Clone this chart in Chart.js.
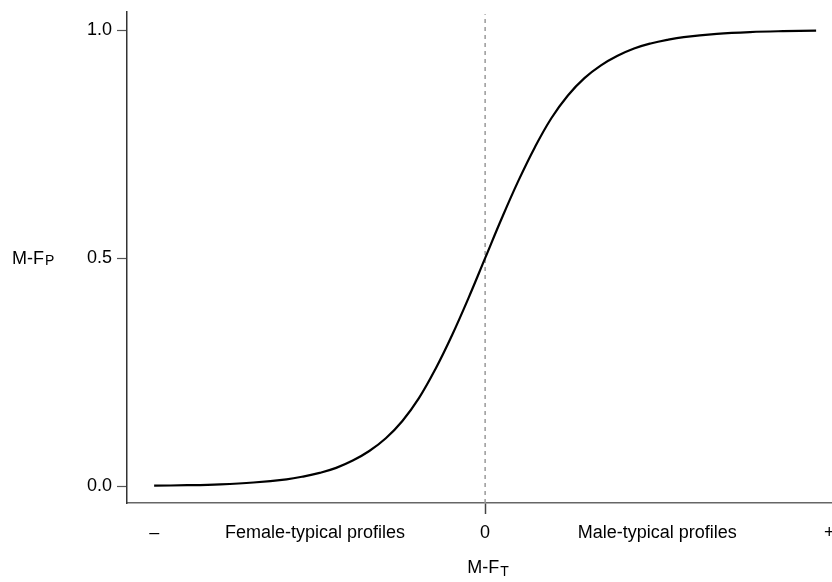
<!DOCTYPE html>
<html>
<head>
<meta charset="utf-8">
<script src="https://cdn.jsdelivr.net/npm/chart.js@4.4.1/dist/chart.umd.min.js"></script>
<style>
  html, body { margin: 0; padding: 0; background: #fff; }
  #wrap { width: 832px; height: 582px; position: relative; }
</style>
</head>
<body>
<div id="wrap"><canvas id="grafico"></canvas></div>
<script>
// Datos
const mfT = [-1, -0.9, -0.8, -0.7, -0.6, -0.55, -0.5, -0.45, -0.4, -0.35, -0.3, -0.25, -0.2, -0.15, -0.1, -0.05, 0,
             0.05, 0.1, 0.15, 0.2, 0.25, 0.3, 0.35, 0.4, 0.45, 0.5, 0.55, 0.6, 0.7, 0.8, 0.9, 1];
const mfP = [0.001, 0.002, 0.004, 0.008, 0.015, 0.021, 0.029, 0.04, 0.056, 0.077, 0.105, 0.143, 0.193, 0.257, 0.331, 0.413, 0.5,
             0.587, 0.669, 0.743, 0.807, 0.857, 0.895, 0.923, 0.944, 0.96, 0.971, 0.979, 0.985, 0.992, 0.996, 0.998, 0.999];

const xTickValues = [-1, -0.514, 0, 0.52, 1.04];
const xTickLabels = ['–', 'Female-typical profiles', '0', 'Male-typical profiles', '+'];
const yTickValues = [0, 0.5, 1];

const dashX = [0, 0];
const dashY = [-0.037, 1.035];

const fuente = "'Liberation Sans', Arial, sans-serif";

// Títulos de ejes con subíndice
const titulos = {
  id: 'titulos',
  afterDraw(chart) {
    const c = chart.ctx;
    c.save();
    c.fillStyle = '#000';
    c.textBaseline = 'alphabetic';
    c.textAlign = 'left';
    // eje y
    c.font = '18px ' + fuente;
    c.fillText('M-F', 12, 264);
    let w = c.measureText('M-F').width;
    c.font = '14px ' + fuente;
    c.fillText('P', 12 + w + 1, 265);
    // eje x
    c.font = '18px ' + fuente;
    const w1 = c.measureText('M-F').width;
    c.font = '14px ' + fuente;
    const w2 = c.measureText('T').width;
    const x0 = 488 - (w1 + w2 + 1) / 2;
    c.font = '18px ' + fuente;
    c.fillText('M-F', x0, 573);
    c.font = '14px ' + fuente;
    c.fillText('T', x0 + w1 + 1, 576);
    c.restore();
  }
};

const ctx = document.getElementById('grafico').getContext('2d');
const chart = new Chart(ctx, {
  type: 'line',
  data: {
    datasets: [{
      data: mfT.map((x, i) => ({ x: x, y: mfP[i] })),
      borderColor: '#000',
      borderWidth: 2.2,
      pointRadius: 0,
      tension: 0.4
    }, {
      data: dashX.map((x, i) => ({ x: x, y: dashY[i] })),
      borderColor: '#999',
      borderWidth: 1.5,
      borderDash: [4, 4],
      pointRadius: 0
    }]
  },
  plugins: [titulos],
  options: {
    responsive: true,
    maintainAspectRatio: false,
    animation: false,
    layout: { padding: { top: 12, left: 0, right: 0, bottom: 0 } },
    plugins: { legend: { display: false }, tooltip: { enabled: false } },
    scales: {
      x: {
        type: 'linear',
        min: -1.082,
        max: 1.048,
        afterBuildTicks: s => { s.ticks = xTickValues.map(v => ({ value: v })); },
        afterFit: s => { s.height = 79; s.paddingLeft = 0; s.paddingRight = 0; },
        border: { display: true, color: '#666', width: 1.5 },
        grid: {
          drawOnChartArea: false,
          drawTicks: true,
          tickLength: 11,
          tickWidth: 1.5,
          tickColor: c => (c.tick && c.tick.value === 0 ? '#444' : 'rgba(0,0,0,0)')
        },
        ticks: {
          autoSkip: false,
          maxRotation: 0,
          padding: 8,
          color: '#000',
          font: { family: fuente, size: 18 },
          callback: (v, i) => xTickLabels[i]
        }
      },
      y: {
        type: 'linear',
        min: -0.037,
        max: 1.04,
        afterBuildTicks: s => { s.ticks = yTickValues.map(v => ({ value: v })); },
        afterFit: s => { s.width = 127; s.paddingTop = 0; s.paddingBottom = 0; },
        border: { display: true, color: '#333', width: 1.5 },
        grid: {
          drawOnChartArea: false,
          drawTicks: true,
          tickLength: 10,
          tickWidth: 1.2,
          tickColor: '#555'
        },
        ticks: {
          padding: 5,
          color: '#000',
          font: { family: fuente, size: 18 },
          callback: v => v.toFixed(1)
        }
      }
    }
  }
});
</script>
</body>
</html>
